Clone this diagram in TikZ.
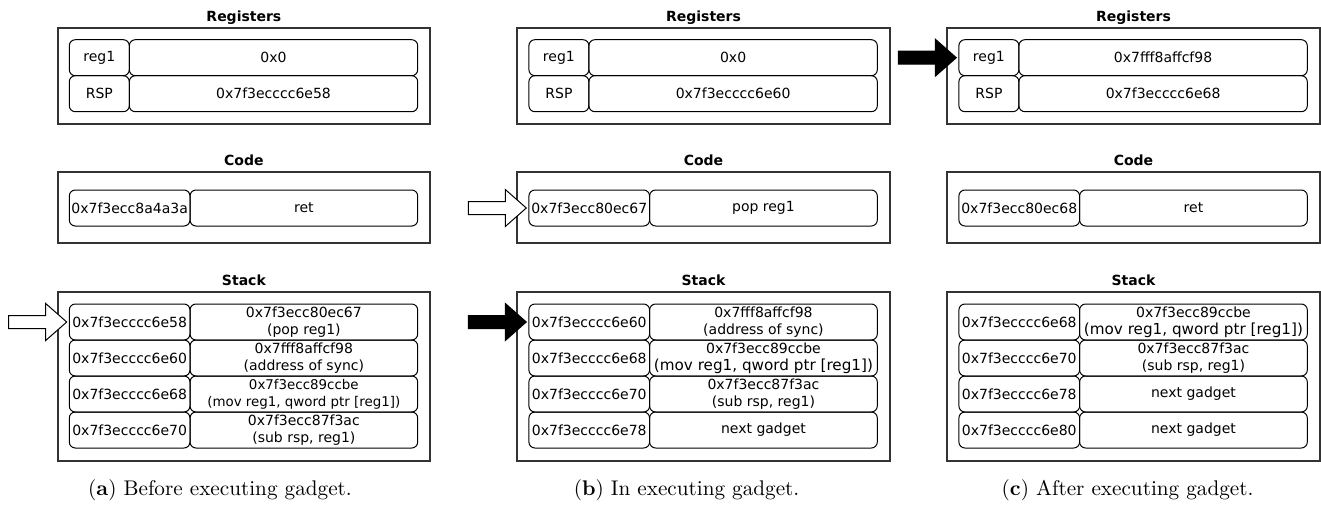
\documentclass[tikz,border=0pt]{standalone}
\usepackage{fontspec}
\setsansfont{DejaVu Sans}
\usetikzlibrary{positioning}

\begin{document}
\begin{tikzpicture}[x=0.5pt,y=-0.5pt,
  frame/.style={rectangle,draw=black!80,line width=0.9pt,anchor=north west,inner sep=0pt,outer sep=0pt,minimum width=186.2pt},
  cell/.style={rectangle,rounded corners=3pt,draw,line width=0.5pt,anchor=north west,inner sep=1pt,outer sep=0pt,
    minimum height=18pt,align=center,font=\sffamily\fontsize{7}{8.4}\selectfont},
  key/.style={cell,minimum width=30pt},
  val/.style={cell,minimum width=144.2pt},
  addr/.style={cell,minimum width=60.35pt},
  word/.style={cell,minimum width=113.85pt},
  tiny word/.style={word,font=\sffamily\fontsize{6.7}{8.4}\selectfont},
  title/.style={anchor=base,inner sep=0pt,font=\sffamily\bfseries\fontsize{7}{8.4}\selectfont},
  caption/.style={inner sep=0pt,font=\fontsize{10.6}{12}\selectfont},
  pointer/.pic={\filldraw[draw=black,line width=0.5pt,line join=miter,fill=#1]
    (0,0) -- (-21,-18.5) -- (-21,-6.5) -- (-58,-6.5) -- (-58,6.5) -- (-21,6.5) -- (-21,18.5) -- cycle;}]
  \useasboundingbox (0,0) rectangle (1321,504);

  % (a) before
  \node[frame,minimum height=48.3pt] (areg) at (57.7,27.7) {};
  \node[title] at ([yshift=3.3pt]areg.north) {Registers};
  \node[key] (ar1) at (69.3,39.7) {reg1};
  \node[val,right=0pt of ar1] (av1) {0x0};
  \node[key,below=0pt of ar1] (ar2) {RSP};
  \node[val,right=0pt of ar2] (av2) {0x7f3ecccc6e58};

  \node[frame,minimum height=35.65pt] (acode) at (57.7,172) {};
  \node[title] at ([yshift=3.3pt]acode.north) {Code};
  \node[addr] (ac1) at (69.3,190) {0x7f3ecc8a4a3a};
  \node[word,right=0pt of ac1] (ai1) {ret};

  \node[frame,minimum height=84.65pt] (astack) at (57.7,291.7) {};
  \node[title] at ([yshift=3.3pt]astack.north) {Stack};
  \node[addr] (as1) at (69.3,304) {0x7f3ecccc6e58};
  \node[word,right=0pt of as1] (aw1) {0x7f3ecc80ec67\\(pop reg1)};
  \node[addr,below=0pt of as1] (as2) {0x7f3ecccc6e60};
  \node[word,right=0pt of as2] (aw2) {0x7fff8affcf98\\(address of sync)};
  \node[addr,below=0pt of as2] (as3) {0x7f3ecccc6e68};
  \node[tiny word,right=0pt of as3] (aw3) {0x7f3ecc89ccbe\\(mov reg1, qword ptr [reg1])};
  \node[addr,below=0pt of as3] (as4) {0x7f3ecccc6e70};
  \node[word,right=0pt of as4] (aw4) {0x7f3ecc87f3ac\\(sub rsp, reg1)};
  \pic at ([xshift=-1.3pt]as1.west) {pointer=white};

  \node[caption] (acap) at (220,490) {(\textbf{a}) Before executing gadget.};

  % (b) in
  \begin{scope}[xshift=229.8pt]
  \node[frame,minimum height=48.3pt] (breg) at (57.7,27.7) {};
  \node[title] at ([yshift=3.3pt]breg.north) {Registers};
  \node[key] (br1) at (69.3,39.7) {reg1};
  \node[val,right=0pt of br1] (bv1) {0x0};
  \node[key,below=0pt of br1] (br2) {RSP};
  \node[val,right=0pt of br2] (bv2) {0x7f3ecccc6e60};

  \node[frame,minimum height=35.65pt] (bcode) at (57.7,172) {};
  \node[title] at ([yshift=3.3pt]bcode.north) {Code};
  \node[addr] (bc1) at (69.3,190) {0x7f3ecc80ec67};
  \node[word,right=0pt of bc1] (bi1) {pop reg1};
  \pic at ([xshift=-1.3pt]bc1.west) {pointer=white};

  \node[frame,minimum height=84.65pt] (bstack) at (57.7,291.7) {};
  \node[title] at ([yshift=3.3pt]bstack.north) {Stack};
  \node[addr] (bs1) at (69.3,304) {0x7f3ecccc6e60};
  \node[word,right=0pt of bs1] (bw1) {0x7fff8affcf98\\(address of sync)};
  \node[addr,below=0pt of bs1] (bs2) {0x7f3ecccc6e68};
  \node[word,right=0pt of bs2] (bw2) {0x7f3ecc89ccbe\\\fontsize{7.6}{8.4}\selectfont(mov reg1, qword ptr [reg1])};
  \node[addr,below=0pt of bs2] (bs3) {0x7f3ecccc6e70};
  \node[word,right=0pt of bs3] (bw3) {0x7f3ecc87f3ac\\(sub rsp, reg1)};
  \node[addr,below=0pt of bs3] (bs4) {0x7f3ecccc6e78};
  \node[word,right=0pt of bs4] (bw4) {next gadget};
  \pic at ([xshift=-1.3pt]bs1.west) {pointer=black};

  \node[caption] (bcap) at (227,490) {(\textbf{b}) In executing gadget.};
  \end{scope}

  % (c) after
  \begin{scope}[xshift=444.8pt]
  \node[frame,minimum height=48.3pt] (creg) at (57.7,27.7) {};
  \node[title] at ([yshift=3.3pt]creg.north) {Registers};
  \node[key] (cr1) at (69.3,39.7) {reg1};
  \node[val,right=0pt of cr1] (cv1) {0x7fff8affcf98};
  \node[key,below=0pt of cr1] (cr2) {RSP};
  \node[val,right=0pt of cr2] (cv2) {0x7f3ecccc6e68};
  \pic at ([xshift=-1.3pt]cr1.west) {pointer=black};

  \node[frame,minimum height=35.65pt] (ccode) at (57.7,172) {};
  \node[title] at ([yshift=3.3pt]ccode.north) {Code};
  \node[addr] (cc1) at (69.3,190) {0x7f3ecc80ec68};
  \node[word,right=0pt of cc1] (ci1) {ret};

  \node[frame,minimum height=84.65pt] (cstack) at (57.7,291.7) {};
  \node[title] at ([yshift=3.3pt]cstack.north) {Stack};
  \node[addr] (cs1) at (69.3,304) {0x7f3ecccc6e68};
  \node[word,right=0pt of cs1] (cw1) {0x7f3ecc89ccbe\\\fontsize{7.6}{8.4}\selectfont(mov reg1, qword ptr [reg1])};
  \node[addr,below=0pt of cs1] (cs2) {0x7f3ecccc6e70};
  \node[word,right=0pt of cs2] (cw2) {0x7f3ecc87f3ac\\(sub rsp, reg1)};
  \node[addr,below=0pt of cs2] (cs3) {0x7f3ecccc6e78};
  \node[word,right=0pt of cs3] (cw3) {next gadget};
  \node[addr,below=0pt of cs3] (cs4) {0x7f3ecccc6e80};
  \node[word,right=0pt of cs4] (cw4) {next gadget};

  \node[caption] (ccap) at (238,490) {(\textbf{c}) After executing gadget.};
  \end{scope}
\end{tikzpicture}
\end{document}
